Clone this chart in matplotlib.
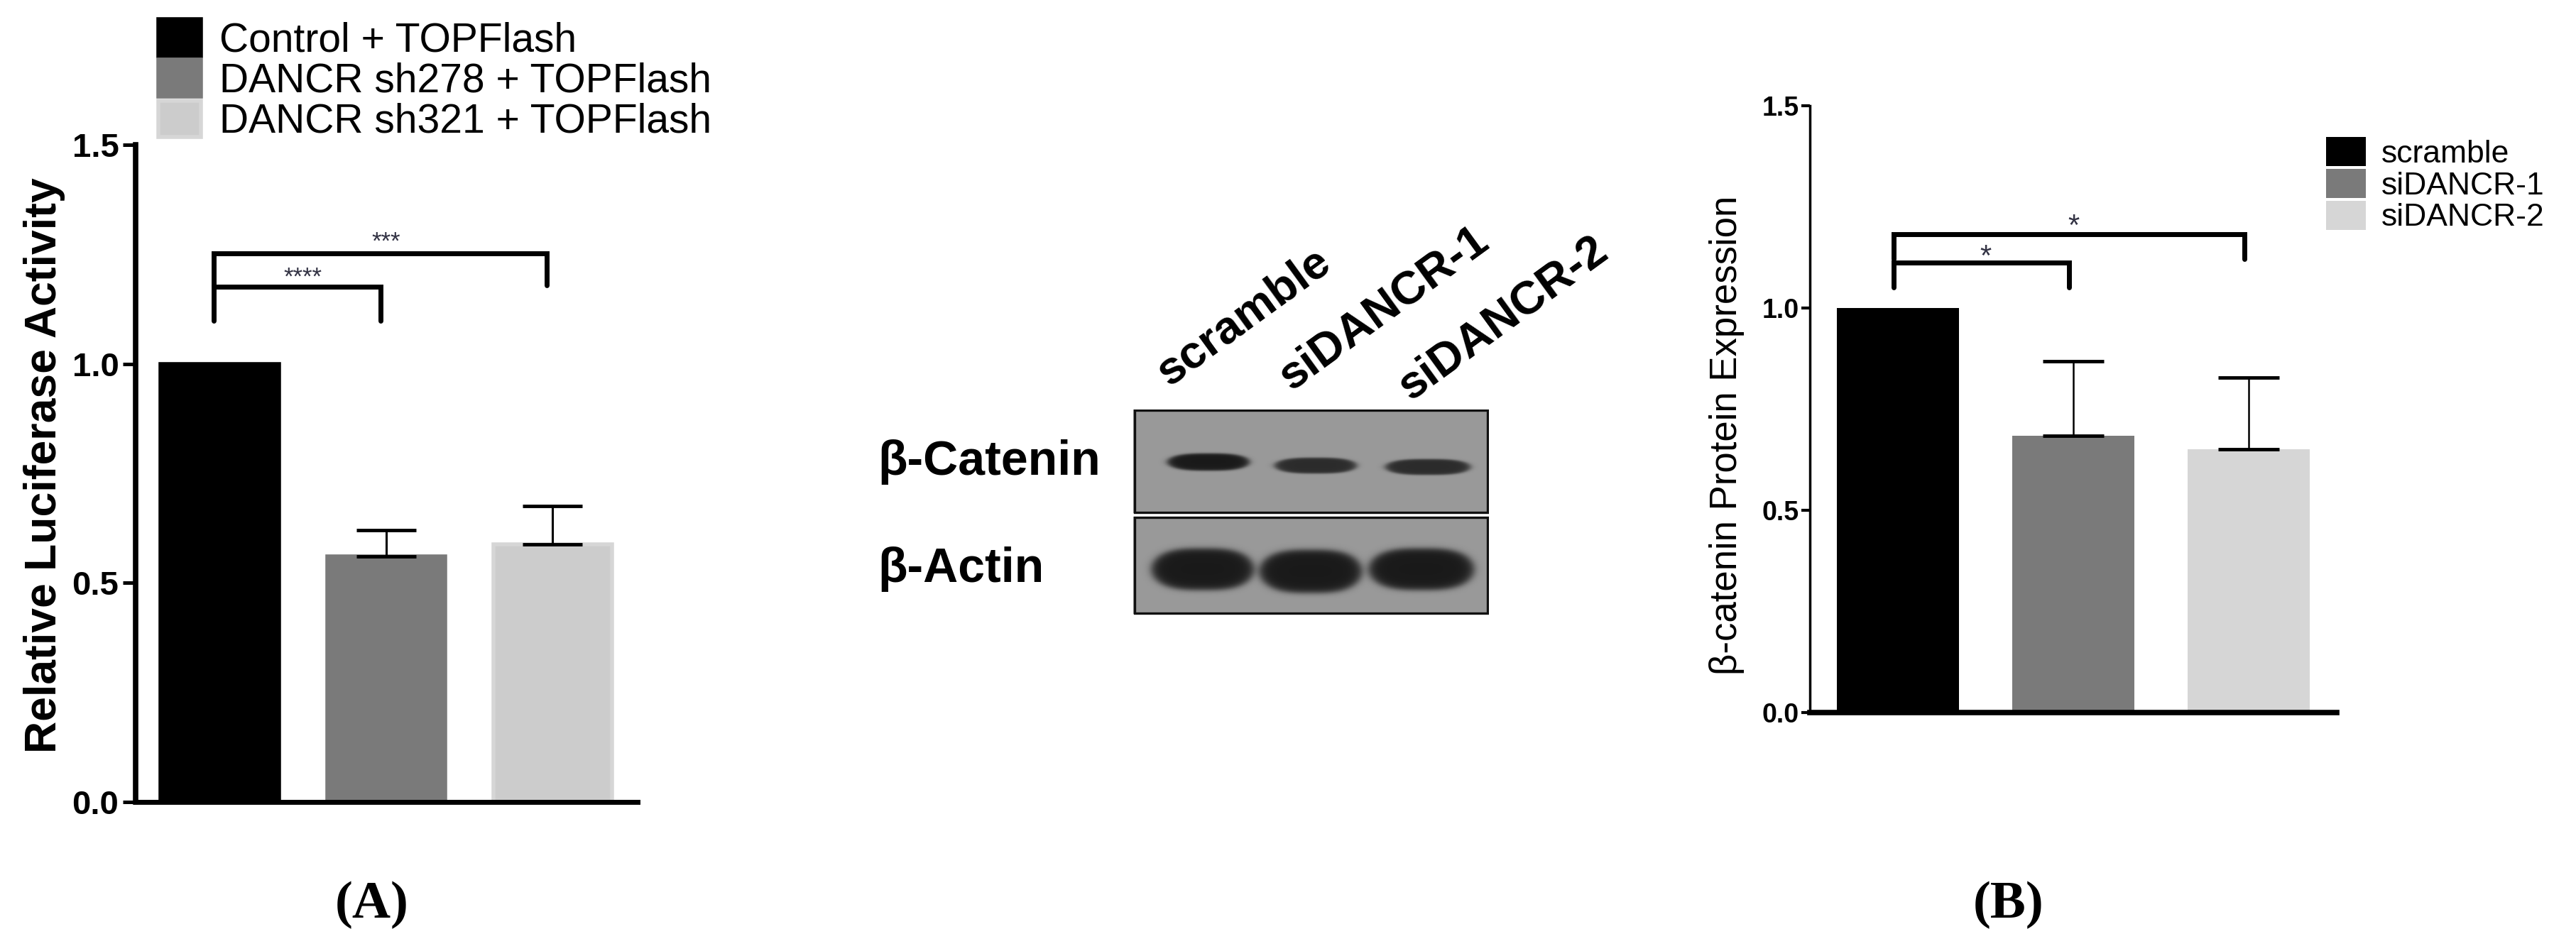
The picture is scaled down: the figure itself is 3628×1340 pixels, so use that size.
import matplotlib
matplotlib.use('Agg')
import matplotlib.pyplot as plt
import numpy as np
from matplotlib.patches import Rectangle

W, H = 3628, 1340
DPI = 100
plt.rcParams['font.family'] = ['Liberation Sans', 'DejaVu Sans']

# ---------------- data: panel A ----------------
a_labels = ['Control + TOPFlash', 'DANCR sh278 + TOPFlash', 'DANCR sh321 + TOPFlash']
a_means = [1.00, 0.561, 0.588]
a_err = [0.0, 0.059, 0.088]
a_colors = ['#000000', '#7a7a7a', '#cccccc']
a_edges = ['#000000', '#7a7a7a', '#d6d6d6']
a_yticks = [0.0, 0.5, 1.0, 1.5]
a_yticklabels = ['0.0', '0.5', '1.0', '1.5']
a_ylabel = 'Relative Luciferase Activity'
a_pairs = [(0, 1), (0, 2)]
a_bracket_top = [1.176, 1.252]
a_bracket_leg = [1.099, 1.179]
a_stars = ['****', '***']
a_star_y = [1.211, 1.292]

# ---------------- data: panel B ----------------
b_labels = ['scramble', 'siDANCR-1', 'siDANCR-2']
b_means = [1.00, 0.684, 0.651]
b_err = [0.0, 0.184, 0.177]
b_colors = ['#000000', '#7a7a7a', '#d6d6d6']
b_yticks = [0.0, 0.5, 1.0, 1.5]
b_yticklabels = ['0.0', '0.5', '1.0', '1.5']
b_ylabel = 'β-catenin Protein Expression'
b_pairs = [(0, 1), (0, 2)]
b_bracket_top = [1.112, 1.182]
b_bracket_leg = [1.051, 1.121]
b_stars = ['*', '*']
b_star_y = [1.146, 1.221]

# ---------------- blot (western) ----------------
blot_lanes = ['scramble', 'siDANCR-1', 'siDANCR-2']
blot_rows = ['β-Catenin', 'β-Actin']
# bands in blot pixel space: centre x, centre y, half width, half height, darkness
blot_upper_bands = [(1702, 651, 57, 12, 0.50), (1853, 656, 57, 11, 0.43), (2011, 658, 59, 11, 0.43)]
blot_lower_bands = [(1694, 802, 71, 29, 0.50), (1846, 805, 71, 30, 0.50), (2002, 802, 73, 29, 0.50)]
blot_bg = 0.60


def fx(x):
    return x / W


def fy(y):
    return 1 - y / H


fig = plt.figure(figsize=(W / DPI, H / DPI), dpi=DPI)

# ======================= Panel A =======================
axA = fig.add_axes([fx(191), fy(1130), (898 - 191) / W, (1130 - 204) / H])
xA = np.arange(len(a_means))
barsA = axA.bar(xA, a_means, width=0.71, color=a_colors, edgecolor=a_edges, linewidth=4, zorder=1)
idx = [i for i in range(len(a_err)) if a_err[i] > 0]
axA.errorbar(xA[idx], np.array(a_means)[idx],
             yerr=[np.zeros(len(idx)), np.array(a_err)[idx]],
             fmt='none', ecolor='black', elinewidth=2.2, capsize=30, capthick=3.5, zorder=2)
axA.set_xlim(-0.505, 2.51)
axA.set_ylim(0, 1.5)
axA.set_yticks(a_yticks)
axA.set_yticklabels(a_yticklabels, fontsize=34, fontweight='bold')
axA.set_xticks([])
axA.tick_params(axis='y', direction='out', length=13, width=3.6, pad=4)
for s in ['top', 'right']:
    axA.spines[s].set_visible(False)
axA.spines['left'].set_linewidth(5.5)
axA.spines['bottom'].set_linewidth(5.0)
shift = -0.035
for (i, j), top, leg in zip(a_pairs, a_bracket_top, a_bracket_leg):
    axA.plot([i + shift, i + shift, j + shift, j + shift], [leg, top, top, leg],
             color='black', lw=5, solid_capstyle='round', solid_joinstyle='miter', zorder=3)
for (i, j), s, y in zip(a_pairs, a_stars, a_star_y):
    axA.text((i + j) / 2, y - 0.029, s, ha='center', va='baseline', fontsize=25, color='#333344')

fig.legend(list(barsA), a_labels, loc='upper left', bbox_to_anchor=(fx(223), fy(27)),
           frameon=False, fontsize=41, handlelength=1.05, handleheight=1.02,
           handletextpad=0.46, labelspacing=0.0, borderpad=0, borderaxespad=0)

fig.text(fx(63), fy(656), a_ylabel, rotation=90, ha='center', va='center',
         fontsize=45, fontweight='bold')

fig.text(fx(524), fy(1275), '(A)', ha='center', va='center', fontsize=54,
         fontweight='bold', family=['Liberation Serif', 'DejaVu Serif'])

# ======================= Blot =======================
bx0, bx1, by0, by1 = 1596, 2097, 577, 867
axW = fig.add_axes([fx(bx0), fy(by1), (bx1 - bx0) / W, (by1 - by0) / H])
axW.set_xlim(bx0, bx1)
axW.set_ylim(by1, by0)
axW.axis('off')


def panel_image(x0, x1, y0, y1, bands):
    xs = np.arange(x0, x1) + 0.5
    ys = np.arange(y0, y1) + 0.5
    X, Y = np.meshgrid(xs, ys)
    img = np.full(X.shape, blot_bg)
    for (cx, cy, hw, hh, d) in bands:
        r = (np.abs(X - cx) / hw) ** 3 + (np.abs(Y - cy) / hh) ** 2
        img = img - d / (1.0 + np.exp((r - 1.0) / 0.16))
    return img


panels = [(577, 723, blot_upper_bands), (728, 865, blot_lower_bands)]
for (p0, p1, bands) in panels:
    img = panel_image(bx0, bx1, p0, p1, bands)
    axW.imshow(img, cmap='gray', vmin=0, vmax=1, extent=(bx0, bx1, p1, p0),
               interpolation='bilinear', aspect='auto', zorder=1)
    axW.add_patch(Rectangle((bx0 + 2, p0 + 1), bx1 - bx0 - 4, p1 - p0 - 2, fill=False,
                            ec='#111111', lw=2.4, zorder=2))

lane_label_x = [1646, 1818, 1986]
lane_label_y = [545, 551, 565]
for name, lx, ly in zip(blot_lanes, lane_label_x, lane_label_y):
    axW.text(lx, ly, name, rotation=36, rotation_mode='anchor', ha='left', va='baseline',
             fontsize=47, fontweight='bold', clip_on=False)

row_y = [651, 802]
for name, ry in zip(blot_rows, row_y):
    fig.text(fx(1236), fy(ry), name, ha='left', va='center', fontsize=49, fontweight='bold')

# ======================= Panel B =======================
axB = fig.add_axes([fx(2549), fy(1004), (3291 - 2549) / W, (1004 - 149) / H])
xB = np.arange(len(b_means))
barsB = axB.bar(xB, b_means, width=0.70, color=b_colors, edgecolor='none', zorder=1)
idx = [i for i in range(len(b_err)) if b_err[i] > 0]
axB.errorbar(xB[idx], np.array(b_means)[idx],
             yerr=[np.zeros(len(idx)), np.array(b_err)[idx]],
             fmt='none', ecolor='black', elinewidth=1.8, capsize=31, capthick=3.5, zorder=2)
axB.set_xlim(-0.502, 2.502)
axB.set_ylim(0, 1.5)
axB.set_yticks(b_yticks)
axB.set_yticklabels(b_yticklabels, fontsize=27, fontweight='bold')
axB.set_xticks([])
axB.tick_params(axis='y', direction='out', length=9, width=3.0, pad=2)
for s in ['top', 'right']:
    axB.spines[s].set_visible(False)
axB.spines['left'].set_linewidth(2.5)
axB.spines['bottom'].set_linewidth(5.5)
shiftB = -0.025
for (i, j), top, leg in zip(b_pairs, b_bracket_top, b_bracket_leg):
    axB.plot([i + shiftB, i + shiftB, j + shiftB, j + shiftB], [leg, top, top, leg],
             color='black', lw=5, solid_capstyle='round', solid_joinstyle='miter', zorder=3)
for (i, j), s, y in zip(b_pairs, b_stars, b_star_y):
    axB.text((i + j) / 2, y - 0.040, s, ha='center', va='baseline', fontsize=30, color='#333344')

fig.legend(list(barsB), b_labels, loc='upper left', bbox_to_anchor=(fx(3276), fy(193)),
           frameon=False, fontsize=32, handlelength=1.27, handleheight=1.05,
           handletextpad=0.48, labelspacing=0.0, borderpad=0, borderaxespad=0)

fig.text(fx(2432), fy(613), b_ylabel, rotation=90, ha='center', va='center', fontsize=38)

fig.text(fx(2829), fy(1275), '(B)', ha='center', va='center', fontsize=54,
         fontweight='bold', family=['Liberation Serif', 'DejaVu Serif'])

fig.savefig('out.png', dpi=DPI, facecolor='white')
